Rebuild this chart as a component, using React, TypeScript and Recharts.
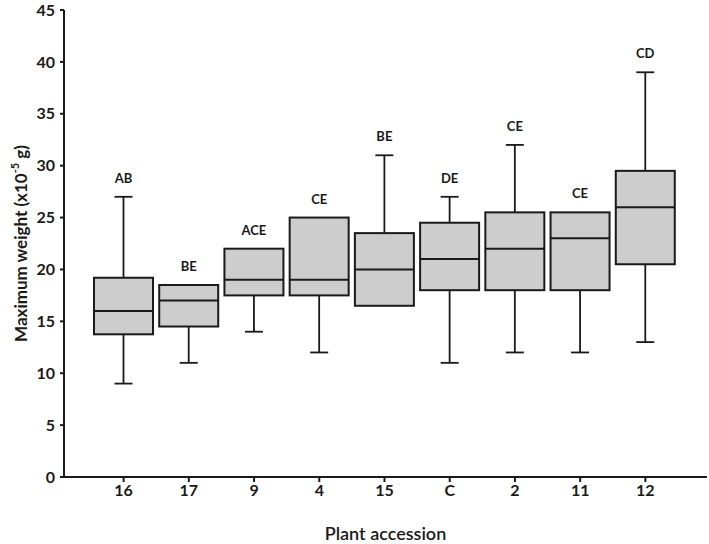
import React from 'react';
import { ComposedChart, Bar, XAxis, YAxis, Label } from 'recharts';

const accessions = ['16', '17', '9', '4', '15', 'C', '2', '11', '12'];
const minValues = [9, 11, 14, 12, 16.5, 11, 12, 12, 13];
const q1Values = [13.75, 14.5, 17.5, 17.5, 16.5, 18, 18, 18, 20.5];
const medianValues = [16, 17, 19, 19, 20, 21, 22, 23, 26];
const q3Values = [19.2, 18.5, 22, 25, 23.5, 24.5, 25.5, 25.5, 29.5];
const maxValues = [27, 18.5, 22, 25, 31, 27, 32, 25.5, 39];
const groupLetters = ['AB', 'BE', 'ACE', 'CE', 'BE', 'DE', 'CE', 'CE', 'CD'];
const yTicks = [0, 5, 10, 15, 20, 25, 30, 35, 40, 45];

const data = accessions.map((name, i) => ({
    name,
    min: minValues[i],
    q1: q1Values[i],
    median: medianValues[i],
    q3: q3Values[i],
    max: maxValues[i],
    letters: groupLetters[i],
    range: [minValues[i], maxValues[i]],
}));

const INK = '#1a1a1a';
const FONT = 'Lato, "Open Sans", sans-serif';

const BoxShape = (props: any) => {
    const { x, y, width, height, payload } = props;
    const { min, q1, median, q3, max, letters } = payload;
    // map a value onto the pixel span of the [min, max] bar
    const pix = (v: number) => y + (height * (max - v)) / (max - min);
    const cx = x + width / 2;
    const cap = 9;
    const yMax = pix(max);
    const yQ3 = pix(q3);
    const yMed = pix(median);
    const yQ1 = pix(q1);
    const yMin = pix(min);
    return (
        <g>
            {max > q3 && (
                <>
                    <line x1={cx} x2={cx} y1={yMax} y2={yQ3} stroke={INK} strokeWidth={1.8} />
                    <line x1={cx - cap} x2={cx + cap} y1={yMax} y2={yMax} stroke={INK} strokeWidth={1.8} />
                </>
            )}
            {min < q1 && (
                <>
                    <line x1={cx} x2={cx} y1={yQ1} y2={yMin} stroke={INK} strokeWidth={1.8} />
                    <line x1={cx - cap} x2={cx + cap} y1={yMin} y2={yMin} stroke={INK} strokeWidth={1.8} />
                </>
            )}
            <rect x={x} y={yQ3} width={width} height={yQ1 - yQ3} fill="#cdcdcd" stroke={INK} strokeWidth={2} />
            <line x1={x} x2={x + width} y1={yMed} y2={yMed} stroke={INK} strokeWidth={2} />
            <text
                x={cx}
                y={yMax - 19}
                textAnchor="middle"
                dominantBaseline="central"
                fontFamily={FONT}
                fontWeight="bold"
                fontSize={13}
                fill={INK}
            >
                {letters}
            </text>
        </g>
    );
};

const YTitle = (props: any) => {
    const vb = props.viewBox || { y: 10, height: 467 };
    const cy = vb.y + vb.height / 2;
    const bx = 27;
    return (
        <text
            x={bx}
            y={cy}
            transform={`rotate(-90, ${bx}, ${cy})`}
            textAnchor="middle"
            fontFamily={FONT}
            fontWeight="bold"
            fontSize={17}
            fill={INK}
        >
            Maximum weight (x10
            <tspan fontSize={11} dy={-8}>-5</tspan>
            <tspan dy={8}> g)</tspan>
        </text>
    );
};

const App: React.FC = () => {
    return (
        <div style={{ position: 'absolute', left: 0, top: 0, background: '#fff' }}>
            <ComposedChart width={709} height={544} data={data} margin={{ top: 10, right: 2, bottom: 0, left: 0 }}>
                <XAxis
                    dataKey="name"
                    height={67}
                    padding={{ left: 27, right: 29 }}
                    axisLine={{ stroke: INK, strokeWidth: 2 }}
                    tickLine={{ stroke: INK, strokeWidth: 2 }}
                    tickSize={5}
                    tickMargin={3}
                    tick={{ fill: INK, fontSize: 16, fontWeight: 'bold', fontFamily: FONT }}
                >
                    <Label
                        value="Plant accession"
                        position="insideBottom"
                        offset={4}
                        style={{ fill: INK, fontSize: 18, fontWeight: 600, fontFamily: FONT }}
                    />
                </XAxis>
                <YAxis
                    width={64}
                    domain={[0, 45]}
                    ticks={yTicks}
                    interval={0}
                    axisLine={{ stroke: INK, strokeWidth: 2 }}
                    tickLine={{ stroke: INK, strokeWidth: 2 }}
                    tickSize={4}
                    tickMargin={5}
                    tick={{ fill: INK, fontSize: 16, fontWeight: 'bold', fontFamily: FONT }}
                >
                    <Label content={<YTitle />} />
                </YAxis>
                <Bar dataKey="range" barSize={59} shape={<BoxShape />} isAnimationActive={false} />
            </ComposedChart>
        </div>
    );
};

export default App;
